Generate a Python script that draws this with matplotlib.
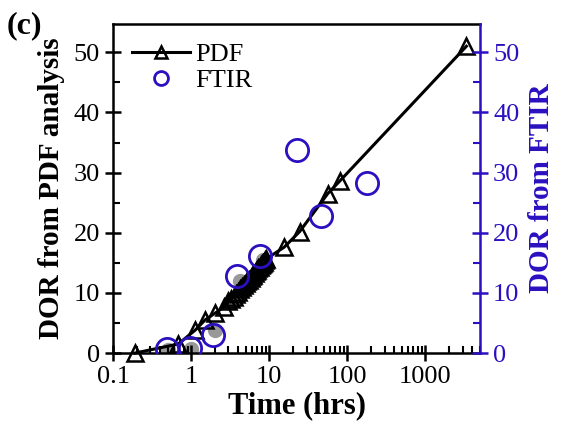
import matplotlib
matplotlib.use("Agg")
import matplotlib.pyplot as plt
from matplotlib.ticker import MultipleLocator, LogLocator, NullFormatter, FixedLocator, FixedFormatter
from matplotlib.lines import Line2D

plt.rcParams['font.family'] = ['Liberation Serif', 'DejaVu Serif']

# PDF series (time in hours, DOR)
pdf_t = [0.19, 0.68, 1.12, 1.5, 2.0, 2.6, 3.0, 3.25, 3.5, 3.75, 4.0, 4.25, 4.5, 4.75,
         5.0, 5.25, 5.5, 5.75, 6.0, 6.25, 6.5, 6.75, 7.0, 7.25, 7.5, 7.75, 8.0,
         8.25, 8.5, 8.75, 9.0, 15.5, 24.5, 56, 80, 3350]
pdf_dor = [0.0, 1.5, 3.8, 5.5, 6.6, 7.6, 8.6, 9.0, 9.4, 9.8, 10.2, 10.6, 11.0, 11.3,
           11.6, 11.9, 12.2, 12.5, 12.8, 13.0, 13.3, 13.6, 13.8, 14.1, 14.3, 14.6, 14.8,
           15.0, 15.2, 15.4, 15.6, 17.6, 20.2, 26.5, 28.6, 51.0]

# FTIR series
ftir_t = [0.49, 0.97, 1.9, 3.9, 7.6, 22.6, 45.6, 177]
ftir_dor = [0.7, 0.8, 3.0, 12.8, 16.2, 33.8, 22.8, 28.2]

# grey underlying markers (partly hidden)
grey_t = [0.5, 1.0, 2.0, 4.2, 8.3]
grey_dor = [0.5, 0.6, 3.8, 12.0, 15.4]

xticks = [0.1, 1, 10, 100, 1000]
xticklabels = ["0.1", "1", "10", "100", "1000"]
yticks = [0, 10, 20, 30, 40, 50]

blue = '#2a10c0'

fig = plt.figure(figsize=(5.66, 4.29), dpi=100)
ax = fig.add_axes([0.2, 0.177, 0.648, 0.767])

ax.plot(grey_t, grey_dor, linestyle='none', marker='o', markersize=10,
        color='#999999', zorder=1)
ax.plot(pdf_t, pdf_dor, color='black', linewidth=2.2, marker='^', markersize=11,
        markerfacecolor='none', markeredgecolor='black', markeredgewidth=1.8,
        zorder=2, clip_on=False)
ax.plot(ftir_t, ftir_dor, linestyle='none', marker='o', markersize=16,
        markerfacecolor='none', markeredgecolor=blue, markeredgewidth=2.0,
        zorder=3)

ax.set_xscale('log')
ax.set_xlim(0.1, 5000)
ax.set_ylim(0, 54.7)
ax.xaxis.set_major_locator(FixedLocator(xticks))
ax.xaxis.set_major_formatter(FixedFormatter(xticklabels))
ax.xaxis.set_minor_locator(LogLocator(base=10, subs=range(2, 10), numticks=20))
ax.xaxis.set_minor_formatter(NullFormatter())
ax.set_yticks(yticks)
ax.yaxis.set_minor_locator(MultipleLocator(5))

for s in ['left', 'bottom', 'top']:
    ax.spines[s].set_linewidth(1.8)
ax.spines['right'].set_visible(False)

ax.tick_params(axis='both', which='major', direction='inout', length=11, width=1.8,
               labelsize=19, pad=4)
ax.tick_params(axis='both', which='minor', direction='in', length=5, width=1.5)
ax.tick_params(axis='x', top=False, which='both')

ax.set_xlabel('Time (hrs)', fontsize=22, fontweight='bold', labelpad=2)
ax.set_ylabel('DOR from PDF analysis', fontsize=21, fontweight='bold', labelpad=6)

ax2 = ax.twinx()
ax2.set_ylim(0, 54.7)
ax2.set_yticks(yticks)
ax2.yaxis.set_minor_locator(MultipleLocator(5))
for s in ['left', 'bottom', 'top']:
    ax2.spines[s].set_visible(False)
ax2.spines['right'].set_color(blue)
ax2.spines['right'].set_linewidth(1.8)
ax2.tick_params(axis='y', which='major', direction='inout', length=11, width=1.8,
                colors=blue, labelsize=19, pad=4)
ax2.tick_params(axis='y', which='minor', direction='in', length=5, width=1.5,
                colors=blue)
ax2.set_ylabel('DOR from FTIR', fontsize=21, fontweight='bold', color=blue, labelpad=6)

handles = [Line2D([], [], color='black', linewidth=2.2, marker='^', markersize=9,
                  markerfacecolor='none', markeredgecolor='black', markeredgewidth=1.8),
           Line2D([], [], linestyle='none', marker='o', markersize=10,
                  markerfacecolor='none', markeredgecolor=blue, markeredgewidth=2.0)]
ax.legend(handles, ['PDF', 'FTIR'], loc='upper left', bbox_to_anchor=(0.0, 1.0),
          frameon=False, fontsize=19, handlelength=2.2, handletextpad=0.2,
          labelspacing=0.1, borderaxespad=0.3)

fig.text(0.012, 0.975, '(c)', fontsize=23, fontweight='bold', va='top', ha='left')

fig.savefig('out.png', dpi=100)
